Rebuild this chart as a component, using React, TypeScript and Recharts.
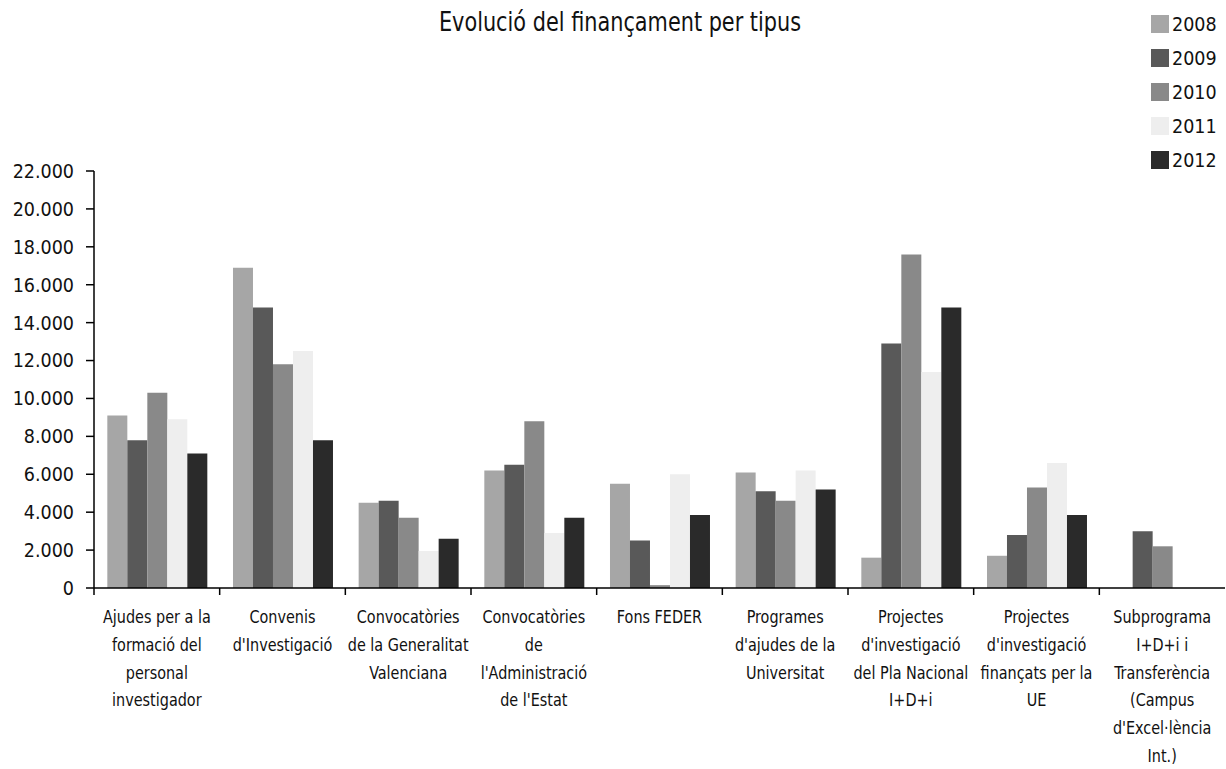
import React from 'react';
import { BarChart, Bar, XAxis, YAxis, Legend } from 'recharts';

const FONT = '"Liberation Sans Narrow", "DejaVu Sans Condensed", "Arial Narrow", sans-serif';

const categories = [
  'Ajudes per a la formació del personal investigador',
  "Convenis d'Investigació",
  'Convocatòries de la Generalitat Valenciana',
  "Convocatòries de l'Administració de l'Estat",
  'Fons FEDER',
  "Programes d'ajudes de la Universitat",
  "Projectes d'investigació del Pla Nacional I+D+i",
  "Projectes d'investigació finançats per la UE",
  "Subprograma I+D+i i Transferència (Campus d'Excel·lència Int.)",
];

// tick labels, wrapped as in the original
const tickLines: string[][] = [
  ['Ajudes per a la', 'formació del', 'personal', 'investigador'],
  ['Convenis', "d'Investigació"],
  ['Convocatòries', 'de la Generalitat', 'Valenciana'],
  ['Convocatòries', 'de', "l'Administració", "de l'Estat"],
  ['Fons FEDER'],
  ['Programes', "d'ajudes de la", 'Universitat'],
  ['Projectes', "d'investigació", 'del Pla Nacional', 'I+D+i'],
  ['Projectes', "d'investigació", 'finançats per la', 'UE'],
  ['Subprograma', 'I+D+i i', 'Transferència', '(Campus', "d'Excel·lència", 'Int.)'],
];

const v2008 = [9100, 16900, 4500, 6200, 5500, 6100, 1600, 1700, 0];
const v2009 = [7800, 14800, 4600, 6500, 2500, 5100, 12900, 2800, 3000];
const v2010 = [10300, 11800, 3700, 8800, 150, 4600, 17600, 5300, 2200];
const v2011 = [8900, 12500, 1950, 2900, 6000, 6200, 11400, 6600, 0];
const v2012 = [7100, 7800, 2600, 3700, 3850, 5200, 14800, 3850, 0];

const yTicks = [0, 2000, 4000, 6000, 8000, 10000, 12000, 14000, 16000, 18000, 20000, 22000];

const series = [
  { key: '2008', color: '#a6a6a6', values: v2008 },
  { key: '2009', color: '#595959', values: v2009 },
  { key: '2010', color: '#898989', values: v2010 },
  { key: '2011', color: '#eeeeee', values: v2011 },
  { key: '2012', color: '#2a2a2a', values: v2012 },
];

const data = categories.map((name, i) => {
  const row: Record<string, string | number> = { name };
  series.forEach(s => { row[s.key] = s.values[i]; });
  return row;
});

const fmt = (v: number) => v.toLocaleString('de-DE');

// the original uses a narrow face, so squeeze DejaVu Condensed a bit
const SQUEEZE = 0.89;

const CategoryTick = (props: any) => {
  const { x, y, payload } = props;
  const lines = tickLines[payload.index] || [];
  const half = payload.offset || 0;
  return (
    <g>
      <line x1={x - half} x2={x - half} y1={y} y2={y + 7} stroke="#000" strokeWidth={1.5} />
      <g transform={`translate(${x},0) scale(${SQUEEZE},1)`}>
        <text x={0} y={y + 35} textAnchor="middle" fontFamily={FONT} fontSize={18} fill="#111">
          {lines.map((l, i) => (
            <tspan key={i} x={0} dy={i === 0 ? 0 : 27.8}>{l}</tspan>
          ))}
        </text>
      </g>
    </g>
  );
};

const LegendBox = () => (
  <div style={{ fontFamily: FONT, fontSize: 19.5, color: '#111' }}>
    {series.map(s => (
      <div key={s.key} style={{ display: 'flex', alignItems: 'center', height: 34 }}>
        <span style={{ display: 'inline-block', width: 18, height: 18, background: s.color, marginRight: 3 }} />
        <span>{s.key}</span>
      </div>
    ))}
  </div>
);

export default function App() {
  return (
    <div style={{ position: 'absolute', left: 0, top: 0, width: 1226, height: 769, background: '#fff' }}>
      <div
        style={{
          position: 'absolute', top: 7, left: 0, width: 1240, textAlign: 'center',
          fontFamily: FONT, fontSize: 26, color: '#111',
          transform: `scale(${SQUEEZE},1)`, transformOrigin: '620px 0',
        }}
      >
        Evolució del finançament per tipus
      </div>
      <BarChart
        width={1226}
        height={769}
        data={data}
        margin={{ top: 171, right: 1, left: 0, bottom: 11 }}
        barCategoryGap="10.6%"
        barGap={0}
      >
        <XAxis
          dataKey="name"
          height={170}
          interval={0}
          tickLine={false}
          axisLine={{ stroke: '#000', strokeWidth: 1.5 }}
          tick={<CategoryTick />}
          tickMargin={0}
          tickSize={0}
        />
        <YAxis
          width={94}
          domain={[0, 22000]}
          ticks={yTicks}
          tickFormatter={fmt}
          tickSize={8}
          tickMargin={12}
          axisLine={{ stroke: '#000', strokeWidth: 1.5 }}
          tickLine={{ stroke: '#000', strokeWidth: 1.5 }}
          tick={{ fontFamily: FONT, fontSize: 19.5, fill: '#111' }}
          interval={0}
        />
        <Legend
          layout="vertical"
          align="center"
          verticalAlign="middle"
          content={<LegendBox />}
          wrapperStyle={{ top: 7, left: 1151, width: 80, height: 170 }}
        />
        {series.map(s => (
          <Bar key={s.key} dataKey={s.key} fill={s.color} isAnimationActive={false} />
        ))}
      </BarChart>
    </div>
  );
}
